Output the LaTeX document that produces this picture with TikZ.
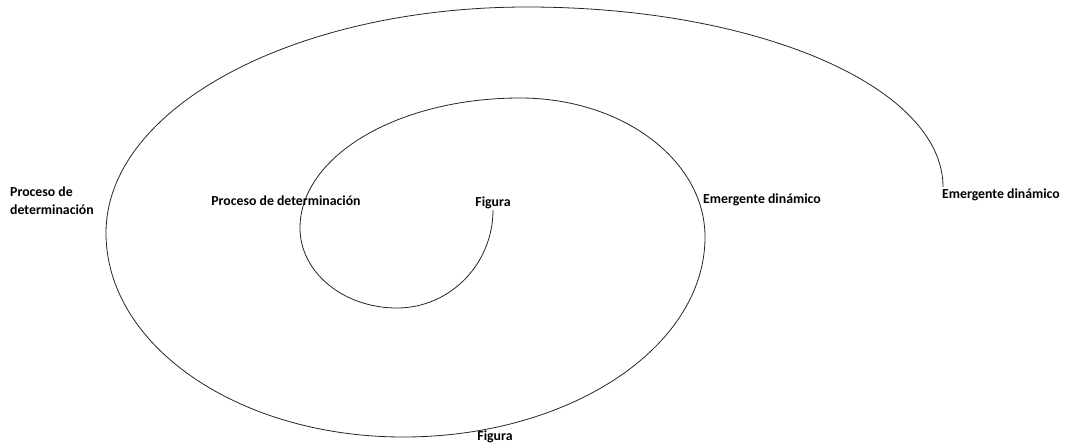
\documentclass[tikz,border=0pt]{standalone}
\usepackage{fontspec}
\setmainfont{Carlito}
\begin{document}
\begin{tikzpicture}[x=1pt,y=-1pt,
  lbl/.style={font=\bfseries\fontsize{13.8}{18}\selectfont, text=black, inner sep=0pt},
  spiral/.style={line width=0.8pt, draw=black!85}]
\useasboundingbox (0,0) rectangle (1065,447);
\fill[white] (0,0) rectangle (1065,447);
\draw[spiral] (493,210)
  .. controls (493,264) and (450,308) .. (397,308)
  .. controls (343,308) and (300,272) .. (300,228)
  .. controls (300,156) and (398,98) .. (520,98)
  .. controls (622,98) and (705,160) .. (705,237)
  .. controls (705,347) and (570,437) .. (403,437)
  .. controls (239,437) and (106,346) .. (106,233)
  .. controls (106,108) and (294,7) .. (527,7)
  .. controls (758,7) and (943,87) .. (943,187);
\node[lbl, anchor=west, align=left] (pd1) at (10,201) {Proceso de\\determinación};
\node[lbl] (pd2) at (286,201) {Proceso de determinación};
\node[lbl] (f1) at (493,203) {Figura};
\node[lbl] (ed1) at (762,200) {Emergente dinámico};
\node[lbl] (ed2) at (1001,195) {Emergente dinámico};
\node[lbl] (f2) at (495,437) {Figura};
\end{tikzpicture}
\end{document}
